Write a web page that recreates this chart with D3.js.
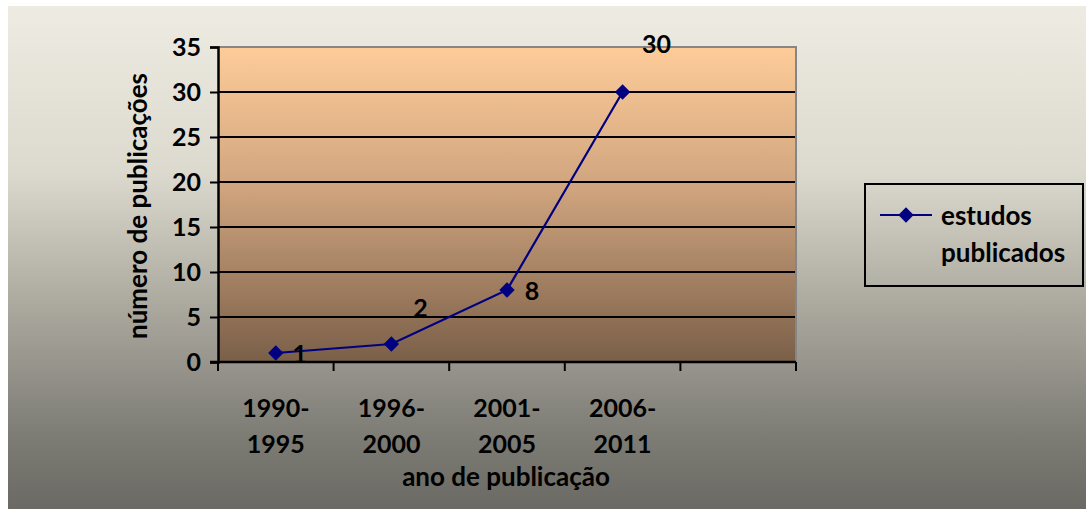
<!DOCTYPE html>
<html>
<head>
<meta charset="utf-8">
<script src="https://cdn.jsdelivr.net/npm/d3@7"></script>
<style>
  body { margin: 0; background: #fff; }
  text { font-family: Lato, "Open Sans", sans-serif; font-weight: bold; fill: #000; }
</style>
</head>
<body>
<svg id="chart" width="1086" height="509"></svg>
<script>

var periods = ["1990-1995", "1996-2000", "2001-2005", "2006-2011", ""];
var studies = [1, 2, 8, 30, null];
var yTicks = [0, 5, 10, 15, 20, 25, 30, 35];
var seriesName = ["estudos", "publicados"];
// hand placed data labels, as in the original sheet
var labelShift = [[24, 1], [29, -36], [25, 1], [34, -48]];

var svg = d3.select("#chart");

var defs = svg.append("defs");
var bg = defs.append("linearGradient").attr("id", "bg").attr("x1", 0).attr("y1", 0).attr("x2", 0).attr("y2", 1);
[["0%", "#eeebe2"], ["33%", "#dcd9cf"], ["58%", "#aeaba1"], ["86%", "#7c7b74"], ["100%", "#6a6963"]].forEach(function(s){
  bg.append("stop").attr("offset", s[0]).attr("stop-color", s[1]);
});
var pa = defs.append("linearGradient").attr("id", "pa").attr("x1", 0).attr("y1", 0).attr("x2", 0).attr("y2", 1);
[["0%", "#fecc99"], ["45%", "#cfa47e"], ["100%", "#7a5f48"]].forEach(function(s){
  pa.append("stop").attr("offset", s[0]).attr("stop-color", s[1]);
});

svg.append("rect").attr("x", 8).attr("y", 6).attr("width", 1078).attr("height", 503).attr("fill", "url(#bg)");

var pLeft = 218, pRight = 796, pTop = 47, pBottom = 362;
var fs = 26;

var x = d3.scaleBand().domain(periods.map(function(d, i){ return i; })).range([pLeft, pRight]).padding(0);
var y = d3.scaleLinear().domain([0, 35]).range([pBottom, pTop]);
var cx = function(i){ return x(i) + x.bandwidth() / 2; };

svg.append("rect").attr("x", pLeft).attr("y", pTop).attr("width", pRight - pLeft).attr("height", pBottom - pTop).attr("fill", "url(#pa)");

// grid
svg.append("g").selectAll("line").data(yTicks.filter(function(t){ return t > 0 && t < 35; })).enter().append("line")
  .attr("x1", pLeft).attr("x2", pRight)
  .attr("y1", function(d){ return y(d); }).attr("y2", function(d){ return y(d); })
  .attr("stroke", "#000").attr("stroke-width", 2);

// top and right border
svg.append("path").attr("d", "M" + pLeft + "," + pTop + "H" + pRight + "V" + pBottom)
  .attr("fill", "none").attr("stroke", "#868686").attr("stroke-width", 2);

// y axis
var yAxis = svg.append("g").attr("transform", "translate(" + pLeft + ",0)")
  .call(d3.axisLeft(y).tickValues(yTicks).tickSize(8).tickPadding(9));
yAxis.select(".domain").attr("stroke", "#000").attr("stroke-width", 2.5);
yAxis.selectAll(".tick line").attr("stroke", "#000").attr("stroke-width", 2);
yAxis.selectAll("text").attr("font-size", 25).attr("font-family", "Lato").attr("font-weight", "bold").attr("dy", "0.35em");

// x axis
svg.append("line").attr("x1", pLeft - 8).attr("x2", pRight).attr("y1", pBottom).attr("y2", pBottom)
  .attr("stroke", "#000").attr("stroke-width", 2.5);
var bounds = periods.map(function(d, i){ return x(i); }).concat([pRight]);
svg.append("g").selectAll("line").data(bounds).enter().append("line")
  .attr("x1", function(d){ return d; }).attr("x2", function(d){ return d; })
  .attr("y1", pBottom).attr("y2", pBottom + 9)
  .attr("stroke", "#000").attr("stroke-width", 2);

var xl = svg.append("g").selectAll("text").data(periods).enter().append("text")
  .attr("text-anchor", "middle").attr("font-size", 25);
xl.append("tspan").attr("x", function(d, i){ return cx(i); }).attr("y", 417)
  .text(function(d){ return d ? d.split("-")[0] + "-" : ""; });
xl.append("tspan").attr("x", function(d, i){ return cx(i); }).attr("y", 453)
  .text(function(d){ return d ? d.split("-")[1] : ""; });

svg.append("text").attr("x", 506).attr("y", 486).attr("text-anchor", "middle").attr("font-size", fs)
  .text("ano de publicação");
svg.append("text").attr("transform", "translate(147,206) rotate(-90)").attr("text-anchor", "middle").attr("font-size", fs)
  .text("número de publicações");

// series
var pts = studies.map(function(v, i){ return {v: v, i: i}; }).filter(function(d){ return d.v !== null; });
var line = d3.line().x(function(d){ return cx(d.i); }).y(function(d){ return y(d.v); });
svg.append("path").datum(pts).attr("d", line).attr("fill", "none").attr("stroke", "#000080").attr("stroke-width", 2.2);

var diamond = d3.symbol().type(d3.symbolDiamond2).size(150);
svg.append("g").selectAll("path").data(pts).enter().append("path")
  .attr("d", diamond)
  .attr("transform", function(d){ return "translate(" + cx(d.i) + "," + y(d.v) + ")"; })
  .attr("fill", "#000080");

svg.append("g").selectAll("text").data(pts).enter().append("text")
  .attr("x", function(d){ return cx(d.i) + labelShift[d.i][0]; })
  .attr("y", function(d){ return y(d.v) + labelShift[d.i][1]; })
  .attr("text-anchor", "middle").attr("dy", "0.35em").attr("font-size", 25)
  .text(function(d){ return d.v; });

// legend
var lg = svg.append("g");
lg.append("rect").attr("x", 865).attr("y", 184).attr("width", 218).attr("height", 102)
  .attr("fill", "none").attr("stroke", "#000").attr("stroke-width", 2);
lg.append("line").attr("x1", 880).attr("x2", 932).attr("y1", 215).attr("y2", 215)
  .attr("stroke", "#000080").attr("stroke-width", 2.2);
lg.append("path").attr("d", diamond).attr("transform", "translate(906,215)").attr("fill", "#000080");
lg.selectAll("text").data(seriesName).enter().append("text")
  .attr("x", 941).attr("y", function(d, i){ return 225 + i * 37; })
  .attr("font-size", fs).text(function(d){ return d; });

</script>
</body>
</html>
